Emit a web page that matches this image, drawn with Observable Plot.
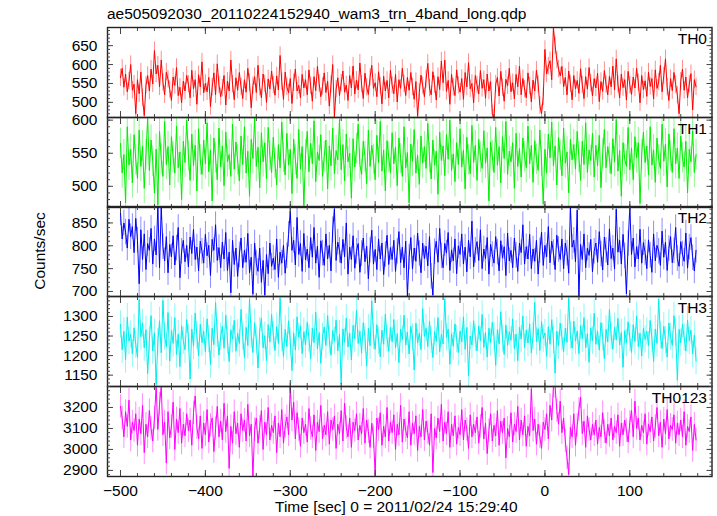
<!DOCTYPE html>
<html><head><meta charset="utf-8">
<script src="https://cdn.jsdelivr.net/npm/d3@7"></script>
<script src="https://cdn.jsdelivr.net/npm/@observablehq/plot@0.6"></script>
<style>
body{margin:0;background:#fff;font-family:"Liberation Sans",Arial,Helvetica,sans-serif}
#wrap{position:relative;width:717px;height:516px;overflow:hidden}
.abs{position:absolute}
</style></head><body><div id="wrap"></div>
<script>
const titleText = "ae505092030_20110224152940_wam3_trn_4band_long.qdp";
const xLabelText = "Time [sec] 0 = 2011/02/24 15:29:40";
const yLabelText = "Counts/sec";
const bandNames = ["TH0", "TH1", "TH2", "TH3", "TH0123"];
const bandColors = ["#ff0000", "#00ee00", "#0000ff", "#00eeee", "#ff00ff"];
const errHalf = [23, 23, 28, 35, 56];
const tStart = -500, tBin = 2;
const xDomain = [-515.3, 196.8];
const xMajorTicks = [-500, -400, -300, -200, -100, 0, 100];
const yDomains = [[460, 698], [468, 604], [689, 886], [1121, 1351], [2871, 3300]];
const yMajorTicks = [[500, 550, 600, 650], [500, 550, 600], [700, 750, 800, 850], [1150, 1200, 1250, 1300], [2900, 3000, 3100, 3200]];
const yMinorStep = [10, 10, 10, 10, 20];

const th0 = [
565,590,540,575,528,556,600,532,548,470,
560,523,580,512,465,545,571,530,588,549,
637,575,598,541,612,553,520,580,561,534,
505,567,545,592,518,540,499,556,530,571,
548,512,585,536,560,495,573,541,607,525,
550,528,566,489,540,578,520,602,546,515,
538,571,493,556,530,612,548,507,565,532,
579,541,510,560,527,590,552,486,544,568,
526,598,540,512,575,549,500,562,535,583,
546,519,570,533,624,555,508,580,541,525,
563,497,552,588,530,545,512,574,538,560,
520,586,544,503,568,531,595,550,515,542,
578,526,556,490,547,600,462,535,565,518,
551,583,527,546,505,571,538,596,522,559,
533,604,548,510,577,540,521,566,598,537,
552,515,581,543,496,569,530,558,512,585,
545,523,574,501,560,537,590,549,518,566,
532,579,541,508,555,463,526,572,544,515,
561,603,538,520,581,547,506,568,534,609,
552,612,529,558,495,574,540,518,586,545,
527,563,508,579,541,605,536,550,499,571,
546,522,584,537,560,511,575,530,555,470,
458,548,566,517,582,539,503,561,544,590,
528,552,509,574,541,596,520,563,535,512,
578,543,501,559,530,585,548,492,470,515,
640,575,596,610,560,698,650,612,588,570,
595,541,566,520,583,549,507,571,536,558,
524,589,546,510,568,535,592,551,517,563,
538,577,502,555,529,584,547,520,569,541,
596,533,615,548,512,575,539,560,506,582,
545,521,567,538,590,552,499,571,533,557,
516,580,542,563,509,586,537,554,598,528,
570,615,540,505,563,531,579,547,519,470,
556,588,532,567,512,548,576,480,560,541];

const th1 = [
565,520,548,475,590,532,556,505,578,540,
512,585,530,561,497,548,603,524,570,538,
490,556,472,583,541,515,598,533,560,502,
575,544,520,591,528,552,480,568,536,600,
546,509,579,531,562,493,587,540,518,570,
534,596,522,555,478,573,543,510,588,529,
561,501,582,537,548,515,594,526,567,540,
508,576,533,590,520,553,485,571,542,604,
530,559,498,581,537,566,511,589,546,521,
574,535,502,563,528,597,544,517,580,532,
556,489,571,540,512,586,526,560,471,548,
583,522,565,534,599,507,552,539,578,515,
545,570,496,561,531,588,519,554,540,601,
525,563,508,579,537,550,482,572,529,557,
594,533,518,568,545,504,585,530,562,541,
510,577,536,598,523,555,493,569,544,520,
581,534,559,501,573,542,515,590,528,551,
475,564,538,586,520,547,503,576,535,560,
527,595,543,511,570,532,553,488,582,539,
561,516,578,541,600,524,549,507,566,533,
587,529,555,496,574,540,519,592,536,562,
509,571,544,527,584,535,558,478,567,546,
521,589,532,560,505,575,542,598,518,553,
537,566,497,580,530,557,514,573,545,528,
591,534,562,506,569,541,524,585,538,473,
556,520,579,543,597,531,561,502,574,547,
516,588,535,552,490,571,540,563,526,583,
544,509,568,533,596,521,555,539,580,514,
562,531,577,498,549,586,528,560,542,519,
572,537,601,523,554,485,566,541,530,589,
525,558,510,575,543,566,474,548,582,536,
561,517,590,532,555,506,573,540,527,594,
538,564,499,579,546,521,587,534,558,512,
576,543,529,568,490,556,537,584,521,548];

const th2 = [
872,815,850,830,795,858,820,842,785,860,
812,717,835,770,826,748,805,790,838,760,
815,780,886,752,884,798,767,820,741,803,
776,822,758,795,840,730,788,812,765,801,
754,819,783,836,770,797,745,810,788,762,
825,778,801,735,814,790,846,768,796,752,
808,771,829,746,786,697,812,759,795,733,
780,817,752,790,764,827,741,775,694,806,
762,744,795,720,768,692,781,739,806,755,
773,748,815,731,786,762,801,740,778,825,
876,790,812,758,862,781,805,744,827,769,
793,752,818,775,840,762,799,731,811,784,
757,826,771,801,745,835,881,768,808,790,
762,814,776,850,738,797,770,822,751,788,
805,742,783,817,765,799,728,790,834,760,
792,748,815,771,806,737,781,823,759,796,
770,812,744,788,831,763,797,752,810,690,
775,818,749,795,766,828,783,741,806,772,
799,756,820,733,692,787,810,764,838,778,
752,805,784,829,746,791,767,815,739,800,
781,826,760,797,743,812,776,854,754,790,
809,768,835,750,793,772,818,738,803,781,
762,820,786,745,811,773,798,735,828,767,
790,752,817,779,744,806,785,846,760,798,
771,825,750,793,766,812,738,789,830,757,
801,776,842,763,810,785,748,823,792,770,
815,750,806,784,740,886,797,812,765,878,
690,803,770,826,752,795,779,814,743,788,
806,764,831,782,747,819,790,758,837,772,
795,749,880,786,812,760,825,778,695,805,
886,781,817,754,798,771,836,762,807,785,
750,813,779,742,826,767,801,788,757,832,
775,808,746,794,820,763,789,840,772,755,
809,782,766,828,751,797,818,774,745,790];

const th3 = [
1280,1215,1262,1190,1298,1237,1254,1205,1271,1228,
1196,1343,1248,1283,1220,1266,1154,1240,1302,1212,
1258,1126,1235,1289,1207,1341,1249,1222,1310,1186,
1264,1231,1297,1203,1255,1172,1276,1238,1215,1292,
1246,1140,1268,1224,1309,1251,1199,1280,1233,1262,
1210,1294,1243,1177,1270,1228,1336,1256,1201,1248,
1275,1219,1303,1238,1185,1266,1242,1290,1211,1257,
1231,1318,1249,1195,1272,1226,1345,1253,1208,1284,
1240,1168,1263,1296,1220,1251,1187,1279,1235,1305,
1252,1213,1274,1231,1348,1245,1198,1267,1223,1289,
1236,1162,1258,1214,1299,1247,1276,1205,1261,1228,
1285,1244,1192,1270,1233,1311,1217,1259,1180,1248,
1273,1226,1302,1240,1201,1264,1237,1291,1212,1255,
1128,1268,1234,1296,1222,1257,1189,1277,1243,1315,
1231,1262,1207,1284,1246,1173,1270,1225,1340,1250,
1216,1279,1238,1197,1265,1229,1306,1244,1211,1272,
1235,1292,1220,1256,1182,1268,1241,1303,1227,1260,
1204,1275,1246,1163,1283,1232,1258,1215,1320,1249,
1270,1223,1288,1240,1195,1261,1236,1297,1210,1254,
1230,1345,1247,1268,1178,1256,1224,1281,1242,1208,
1263,1235,1299,1216,1272,1148,1250,1227,1289,1245,
1212,1276,1238,1305,1221,1259,1196,1270,1233,1285,
1248,1175,1266,1230,1312,1244,1203,1278,1226,1261,
1239,1294,1218,1255,1187,1273,1242,1301,1220,1265,
1232,1281,1207,1250,1336,1236,1269,1213,1287,1244,
1258,1198,1274,1229,1292,1240,1155,1262,1225,1283,
1247,1210,1270,1234,1348,1251,1219,1288,1237,1263,
1205,1276,1243,1297,1220,1256,1183,1271,1238,1308,
1229,1262,1214,1284,1247,1192,1267,1235,1318,1250,
1216,1273,1240,1295,1227,1259,1170,1264,1232,1286,
1245,1208,1279,1236,1301,1223,1257,1199,1270,1241,
1262,1226,1290,1244,1185,1268,1231,1344,1252,1218,
1275,1239,1196,1283,1248,1226,1302,1258,1137,1267,
1233,1280,1246,1212,1291,1238,1265,1204,1253,1186];

const th0123 = [
3205,3150,3060,3180,3110,3235,3045,3130,3090,3170,
3020,3145,3075,3210,2985,3120,3060,3185,3100,3040,
3150,3300,3095,3215,3300,3070,3130,2935,3180,3055,
3110,3225,3000,3145,3080,3195,3030,3120,3065,3170,
3090,3140,3020,3175,3255,3105,3050,3160,3005,3125,
3070,3190,3035,3115,3150,2990,3100,3205,3060,3135,
3045,3220,3085,3160,2910,3110,3030,3180,3075,3125,
3010,3170,3090,3140,3040,3215,3065,3120,2871,3095,
3150,3030,3105,3185,3000,3130,3070,3200,3045,3115,
3080,3160,2985,3125,3060,3190,3030,3110,3155,3070,
3300,3140,3225,3050,3175,3095,3015,3150,3080,3120,
3035,3195,3100,3060,3165,2995,3130,3085,3210,3050,
3115,3070,3180,3025,3140,3095,3160,3005,3120,3075,
3185,3040,3220,3105,3060,3150,3010,3130,3090,3170,
3045,3115,3075,3195,3030,3140,3085,3010,3125,3060,
2880,3150,3095,3175,3020,3110,3060,3200,3040,3130,
3080,3165,3000,3120,3070,3210,3035,3145,3090,3055,
3180,3020,3125,3075,3160,2995,3110,3060,3190,3045,
3135,3080,3020,3170,2890,3100,3055,3150,3085,3215,
3040,3130,3075,3180,3010,3120,3065,3160,3025,3105,
3070,3190,3045,3140,3095,3005,3165,3060,3120,3080,
3155,3030,3110,3200,3050,3125,2980,3090,3170,3040,
3115,3065,3185,3020,3135,3080,3150,2960,3100,3060,
3175,3035,3120,3085,3205,3045,3140,3070,3160,3015,
3110,3065,3290,3090,3145,3025,3120,3060,3005,3130,
3095,3170,3050,3210,3140,3300,3300,3185,3120,3230,
3080,3150,3040,2960,2880,3105,3060,3170,3020,3115,
3190,3250,3075,3135,3010,3160,3095,3045,3120,3070,
3140,3025,3105,3060,3175,3085,3030,3120,3065,3150,
3045,3110,3080,3165,3015,3125,3070,3140,3090,3035,
3130,3185,3060,3230,3100,3150,3045,3115,3080,3170,
3025,3120,3085,3155,3040,3110,3200,3065,3130,3010,
3145,3075,3190,3050,3115,3095,3165,3030,3125,3070,
3140,3060,3180,3020,3110,3085,3155,2995,3120,3045];

const bandValues = [th0, th1, th2, th3, th0123];
const panelTops = [27, 117, 206, 296, 386];
const panelH = 90;
const FONT = '"Liberation Sans", Arial, Helvetica, sans-serif';
const FS = 15.5;

const wrap = document.getElementById("wrap");

function addText(txt, css) {
  const d = document.createElement("div");
  d.className = "abs";
  d.textContent = txt;
  Object.assign(d.style, {fontSize: FS + "px", color: "#000", whiteSpace: "nowrap", lineHeight: "1"}, css);
  wrap.appendChild(d);
  return d;
}

const xMinorTicks = d3.range(-500, 181, 20);
const intFmt = d3.format("d");

bandValues.forEach((vals, k) => {
  const e = errHalf[k];
  const rows = vals.map((v, i) => ({t: tStart + i * tBin, v, lo: v - e, hi: v + e}));
  const [ylo, yhi] = yDomains[k];
  const yMinor = d3.range(Math.ceil(ylo / yMinorStep[k]) * yMinorStep[k], yhi + 0.01, yMinorStep[k]);
  const isLast = k === bandValues.length - 1;
  const blank = () => "";
  const marks = [
    Plot.ruleX(rows, {x: "t", y1: "lo", y2: "hi", stroke: bandColors[k], strokeOpacity: 0.45, strokeWidth: 1, clip: true}),
    Plot.line(rows, {x: "t", y: "v", stroke: bandColors[k], strokeWidth: 1, clip: true}),
    Plot.frame({stroke: "#222", strokeWidth: 1.4}),
    Plot.axisY(yMajorTicks[k], {anchor: "left", tickSize: -6, tickPadding: 16, tickFormat: intFmt, label: null, fontSize: FS, stroke: "#444"}),
    Plot.axisY(yMinor, {anchor: "left", tickSize: -3, tickFormat: blank, label: null, stroke: "#444"}),
    Plot.axisY(yMajorTicks[k], {anchor: "right", tickSize: -6, tickFormat: blank, label: null, stroke: "#444"}),
    Plot.axisY(yMinor, {anchor: "right", tickSize: -3, tickFormat: blank, label: null, stroke: "#444"}),
    Plot.axisX(xMajorTicks, {anchor: "top", tickSize: -6, tickFormat: blank, label: null, stroke: "#444"}),
    Plot.axisX(xMinorTicks, {anchor: "top", tickSize: -3, tickFormat: blank, label: null, stroke: "#444"}),
    Plot.axisX(xMajorTicks, {anchor: "bottom", tickSize: -6, tickPadding: 14.5, tickFormat: isLast ? intFmt : blank, label: null, fontSize: FS, stroke: "#444"}),
    Plot.axisX(xMinorTicks, {anchor: "bottom", tickSize: -3, tickFormat: blank, label: null, stroke: "#444"}),
    Plot.text([bandNames[k]], {frameAnchor: "top-right", dx: -5, dy: 5, lineAnchor: "top", fontSize: FS, fill: "#000"})
  ];
  const svg = Plot.plot({
    width: 717,
    height: panelH,
    marginLeft: 107,
    marginRight: 5.5,
    marginTop: 0,
    marginBottom: 0,
    x: {domain: xDomain},
    y: {domain: yDomains[k]},
    style: {fontFamily: FONT, fontSize: FS + "px", color: "#000", background: "transparent", overflow: "visible"},
    marks
  });
  svg.style.position = "absolute";
  svg.style.left = "0px";
  svg.style.top = panelTops[k] + "px";
  svg.style.maxWidth = "none";
  wrap.appendChild(svg);
});

addText(titleText, {left: "107px", top: "6px"});
addText(xLabelText, {left: "275px", top: "499px"});
addText(yLabelText, {left: "40px", top: "251px", transform: "translate(-50%,-50%) rotate(-90deg)"});
</script></body></html>
